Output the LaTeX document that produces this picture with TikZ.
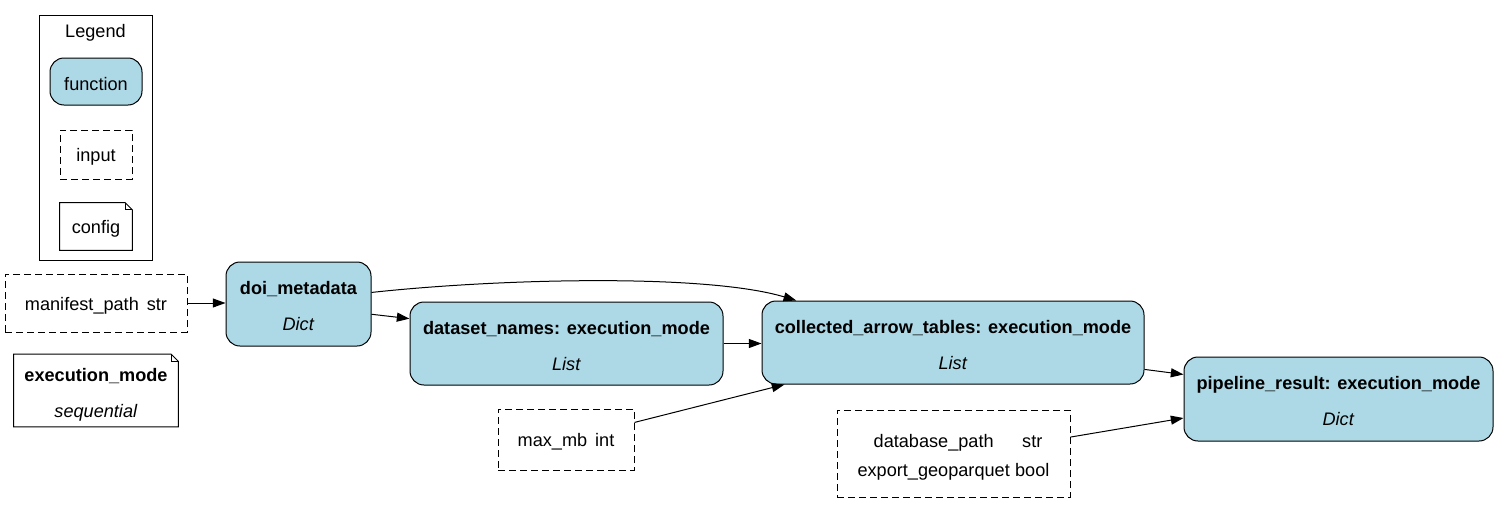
\documentclass[tikz,border=0pt]{standalone}
\usepackage{fontspec}
\setmainfont{Liberation Sans}
\usetikzlibrary{arrows.meta,calc}
\definecolor{fnblue}{HTML}{ADD8E6}
\tikzset{
  every node/.style={font=\fontsize{13.6}{16.8}\selectfont, inner sep=0pt},
  fnbox/.style={draw, line width=0.75pt, fill=fnblue, rounded corners=10.5pt, align=center},
  inbox/.style={draw, dash pattern=on 5.25pt off 3pt, line width=0.75pt, align=center},
  notebox/.style={align=center},
  notepath/.style={line width=0.75pt},
  edge/.style={-{Triangle[length=9.5pt,width=6.75pt]}, line width=0.75pt},
}
\newcommand{\twoline}[2]{\raisebox{-1.2pt}[\height][\depth]{\fontsize{13.6}{27}\selectfont\begin{tabular}{@{}c@{}}\textbf{#1}\\\textit{#2}\end{tabular}}}
\newcommand{\oneline}[1]{\raisebox{-2pt}[\height][\depth]{#1}}
\newcommand{\drawnote}[1]{%
  \draw[notepath] (#1.north west) -- ($(#1.north east)+(-7,0)$) -- ($(#1.north east)+(0,7)$) -- (#1.south east) -- (#1.south west) -- cycle;
  \draw[notepath] ($(#1.north east)+(-7,0)$) -- ($(#1.north east)+(-7,7)$) -- ($(#1.north east)+(0,7)$);
}
\begin{document}
\begin{tikzpicture}[x=0.75pt,y=-0.75pt]
\useasboundingbox (0,0) rectangle (1499,504);
% legend
\node[draw, line width=0.75pt, minimum width=84.75pt, minimum height=183.75pt] (legend) at (95.5,137.5) {};
\node (legendtitle) at (95.5,33) {Legend};
\node[fnbox, minimum width=69pt, minimum height=35.25pt] (lfunction) at (96,81.5) {\oneline{function}};
\node[inbox, minimum width=54pt, minimum height=36.75pt] (linput) at (96,154.5) {\oneline{input}};
\node[minimum width=54pt, minimum height=35.25pt] (lconfig) at (96,226.5) {\oneline{config}};
\drawnote{lconfig}
% inputs / config
\node[inbox, minimum width=136.5pt, minimum height=43.5pt] (manifest) at (96,303) {\oneline{manifest\_path\hspace{6pt}str}};
\node[notebox, minimum width=123pt, minimum height=50.25pt] (execmode) at (96,390.5) {\twoline{execution\_mode}{sequential}};
\drawnote{execmode}
\node[inbox, minimum width=102pt, minimum height=45.75pt] (maxmb) at (566,439.5) {\oneline{max\_mb\hspace{6pt}int}};
\node[inbox, minimum width=174.75pt, minimum height=65.25pt] (database) at (953.5,453.5)
  {\raisebox{-2.2pt}[\height][\depth]{\fontsize{13.6}{21.75}\selectfont\begin{tabular}{@{}c@{\hspace{4pt}}c@{}}database\_path & str\\ export\_geoparquet & bool\end{tabular}}};
% functions
\node[fnbox, minimum width=108.75pt, minimum height=63pt] (doi) at (298.5,304) {\twoline{doi\_metadata}{Dict}};
\node[fnbox, minimum width=234.75pt, minimum height=62.25pt] (dataset) at (566.5,343.5) {\twoline{dataset\_names: execution\_mode}{List}};
\node[fnbox, minimum width=286.5pt, minimum height=62.25pt] (collected) at (953,342.5) {\twoline{collected\_arrow\_tables: execution\_mode}{List}};
\node[fnbox, minimum width=231.75pt, minimum height=63pt] (pipeline) at (1338.5,399) {\twoline{pipeline\_result: execution\_mode}{Dict}};
% edges
\draw[edge] (manifest.east) -- (doi.west |- manifest.east);
\draw[edge] (doi.-8.6) -- (dataset.171.8);
\draw[edge] (doi.9.4) .. controls +(129,-14) and +(-90,-27) .. (collected.165.7);
\draw[edge] (dataset.east) -- (collected.west |- dataset.east);
\draw[edge] (maxmb.14.4) -- (collected.194);
\draw[edge] (collected.-8.8) -- (pipeline.171.9);
\draw[edge] (database.8.5) -- (pipeline.187.7);
\end{tikzpicture}
\end{document}
